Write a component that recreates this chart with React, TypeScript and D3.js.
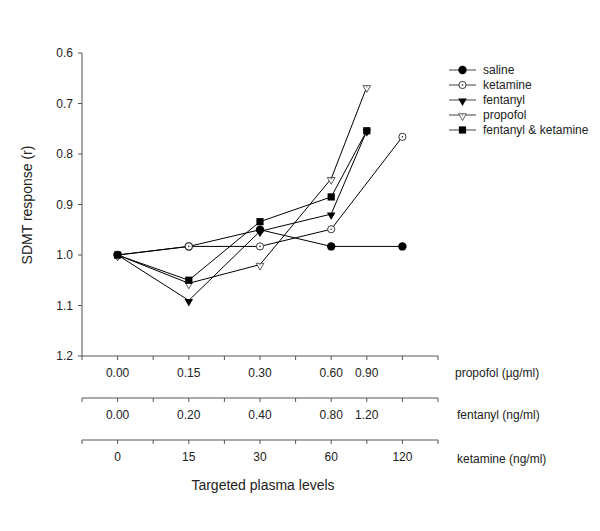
import React from 'react';
import * as d3 from 'd3';

// slot index on the shared x axis (one slot = one minor tick)
const salineSlots = [0, 2, 4, 6, 8];
const salineValues = [1.0, 0.983, 0.95, 0.983, 0.983];
const ketamineSlots = [0, 2, 4, 6, 8];
const ketamineValues = [1.0, 0.983, 0.983, 0.949, 0.766];
const fentanylSlots = [0, 2, 4, 6, 7];
const fentanylValues = [1.0, 1.09, 0.953, 0.919, 0.754];
const propofolSlots = [0, 2, 4, 6, 7];
const propofolValues = [1.0, 1.056, 1.019, 0.849, 0.667];
const comboSlots = [0, 2, 4, 6, 7];
const comboValues = [1.0, 1.05, 0.934, 0.885, 0.754];

const propofolTickSlots = [0, 2, 4, 6, 7];
const propofolTickLabels = ['0.00', '0.15', '0.30', '0.60', '0.90'];
const fentanylTickSlots = [0, 2, 4, 6, 7];
const fentanylTickLabels = ['0.00', '0.20', '0.40', '0.80', '1.20'];
const ketamineTickSlots = [0, 2, 4, 6, 8];
const ketamineTickLabels = ['0', '15', '30', '60', '120'];

const yTicks = [0.6, 0.7, 0.8, 0.9, 1.0, 1.1, 1.2];

type Marker = 'circle' | 'ocircle' | 'tri' | 'otri' | 'square';

const series: { name: string; slots: number[]; values: number[]; marker: Marker }[] = [
  { name: 'saline', slots: salineSlots, values: salineValues, marker: 'circle' },
  { name: 'ketamine', slots: ketamineSlots, values: ketamineValues, marker: 'ocircle' },
  { name: 'fentanyl', slots: fentanylSlots, values: fentanylValues, marker: 'tri' },
  { name: 'propofol', slots: propofolSlots, values: propofolValues, marker: 'otri' },
  { name: 'fentanyl & ketamine', slots: comboSlots, values: comboValues, marker: 'square' },
];

const FONT = 'Arial, "Liberation Sans", sans-serif';
const AXIS = '#555';

const x = d3.scaleLinear().domain([-1, 9]).range([82, 438]);
const y = d3.scaleLinear().domain([0.6, 1.2]).range([53, 356]);
const minorSlots = d3.range(-1, 10);

const triFill = d3.symbol().type(d3.symbolTriangle).size(32)() as string;
const triOpen = d3.symbol().type(d3.symbolTriangle).size(26)() as string;
const sqPath = d3.symbol().type(d3.symbolSquare).size(52)() as string;

const MarkerShape = ({ kind, cx, cy }: { kind: Marker; cx: number; cy: number }) => {
  switch (kind) {
    case 'circle':
      return <circle cx={cx} cy={cy} r={4.2} fill="#000" />;
    case 'ocircle':
      return (
        <g>
          <circle cx={cx} cy={cy} r={3.6} fill="#fff" stroke="#222" strokeWidth={0.9} />
          <circle cx={cx} cy={cy} r={0.8} fill="#222" />
        </g>
      );
    case 'tri':
      return <path d={triFill} transform={`translate(${cx},${cy + 1}) rotate(180)`} fill="#000" />;
    case 'otri':
      return (
        <g>
          <path d={triOpen} transform={`translate(${cx},${cy + 1}) rotate(180)`} fill="#fff" stroke="#333" strokeWidth={0.8} />
          <circle cx={cx} cy={cy} r={0.7} fill="#555" />
        </g>
      );
    default:
      return <path d={sqPath} transform={`translate(${cx},${cy})`} fill="#000" />;
  }
};

const SubAxis = ({ yPos, slots, labels, unit, unitX, unitDy }: { yPos: number; slots: number[]; labels: string[]; unit: string; unitX: number; unitDy: number }) => (
  <g>
    <line x1={x(-1)} x2={x(9)} y1={yPos} y2={yPos} stroke={AXIS} />
    {minorSlots.map((s) => (
      <line key={s} x1={x(s)} x2={x(s)} y1={yPos} y2={yPos + 4} stroke={AXIS} />
    ))}
    {slots.map((s, i) => (
      <text key={i} x={x(s)} y={yPos + 21} textAnchor="middle" fontSize={12} fill="#222">
        {labels[i]}
      </text>
    ))}
    <text x={unitX} y={yPos + 21 + unitDy} fontSize={12} fill="#222">
      {unit}
    </text>
  </g>
);

const App = () => {
  const line = d3
    .line<[number, number]>()
    .x((d) => x(d[0]))
    .y((d) => y(d[1]));

  return (
    <svg width={600} height={531} style={{ position: 'absolute', left: 0, top: 0, background: '#fff' }} fontFamily={FONT}>
      {/* y axis */}
      <line x1={82} x2={82} y1={y(0.6)} y2={y(1.2)} stroke={AXIS} />
      {yTicks.map((t) => (
        <g key={t}>
          <line x1={78} x2={82} y1={y(t)} y2={y(t)} stroke={AXIS} />
          <text x={73} y={y(t) + 4} textAnchor="end" fontSize={12} fill="#222">
            {d3.format('.1f')(t)}
          </text>
        </g>
      ))}
      <text transform={`translate(32,205) rotate(-90)`} textAnchor="middle" fontSize={14} fill="#222">
        SDMT response (r)
      </text>

      {/* bottom axes */}
      <SubAxis yPos={356} slots={propofolTickSlots} labels={propofolTickLabels} unit="propofol (µg/ml)" unitX={455} unitDy={0} />
      <SubAxis yPos={398} slots={fentanylTickSlots} labels={fentanylTickLabels} unit="fentanyl (ng/ml)" unitX={457} unitDy={0} />
      <SubAxis yPos={440} slots={ketamineTickSlots} labels={ketamineTickLabels} unit="ketamine (ng/ml)" unitX={457} unitDy={2} />
      <text x={263} y={490} textAnchor="middle" fontSize={14} fill="#222">
        Targeted plasma levels
      </text>

      {/* series */}
      {series.map((s) => {
        const pts = s.slots.map((sl, i) => [sl, s.values[i]] as [number, number]);
        return (
          <g key={s.name}>
            <path d={line(pts) ?? ''} fill="none" stroke="#000" strokeWidth={1} />
            {pts.map((p, i) => (
              <MarkerShape key={i} kind={s.marker} cx={x(p[0])} cy={y(p[1])} />
            ))}
          </g>
        );
      })}

      {/* legend */}
      {series.map((s, i) => {
        const ly = 70 + i * 15;
        return (
          <g key={s.name}>
            <line x1={449} x2={476} y1={ly} y2={ly} stroke="#444" />
            <MarkerShape kind={s.marker} cx={462.5} cy={ly} />
            <text x={483} y={ly + 4} fontSize={12} fill="#222">
              {s.name}
            </text>
          </g>
        );
      })}
    </svg>
  );
};

export default App;
